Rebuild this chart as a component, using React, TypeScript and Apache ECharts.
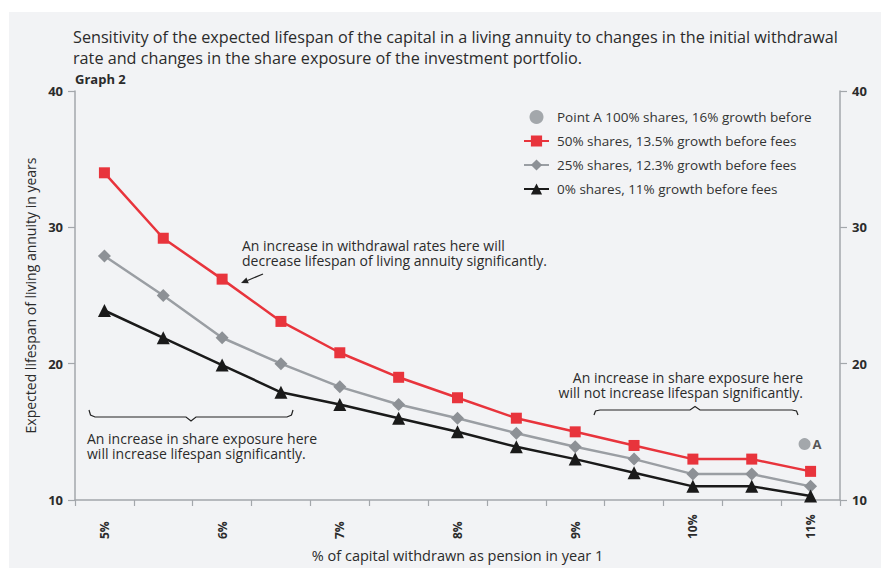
import React, { useEffect, useRef } from "react";
import * as echarts from "echarts";

const categories = ["5%", "5.5%", "6%", "6.5%", "7%", "7.5%", "8%", "8.5%", "9%", "9.5%", "10%", "10.5%", "11%"];
const shownLabels = ["5%", "6%", "7%", "8%", "9%", "10%", "11%"];
const red50 = [34.0, 29.2, 26.2, 23.1, 20.8, 19.0, 17.5, 16.0, 15.0, 14.0, 13.0, 13.0, 12.1];
const gray25 = [27.9, 25.0, 21.9, 20.0, 18.3, 17.0, 16.0, 14.9, 13.9, 13.0, 11.9, 11.9, 11.0];
const black0 = [23.9, 21.9, 19.9, 17.9, 17.0, 16.0, 15.0, 13.9, 13.0, 12.0, 11.0, 11.0, 10.3];
const pointA = [["11%", 14.1]];
const seriesNames = [
  "Point A 100% shares, 16% growth before",
  "50% shares, 13.5% growth before fees",
  "25% shares, 12.3% growth before fees",
  "0% shares, 11% growth before fees",
];
const titleLines = [
  "Sensitivity of the expected lifespan of the capital in a living annuity to changes in the initial withdrawal",
  "rate and changes in the share exposure of the investment portfolio.",
];
const noteTop = ["An increase in withdrawal rates here will", "decrease lifespan of living annuity significantly."];
const noteLeft = ["An increase in share exposure here", "will increase lifespan significantly."];
const noteRight = ["An increase in share exposure here", "will not increase lifespan significantly."];

const SANS = "'Open Sans', 'Noto Sans', sans-serif";
const AXIS = "#a3a7ab";
const TXT = "#2b2b2b";

function lines(texts: string[], x: number, yCenters: number[], align: string, size: number) {
  return texts.map((t, i) => ({
    type: "text",
    x,
    y: yCenters[i],
    style: { text: t, font: `${size}px ${SANS}`, fill: TXT, align, verticalAlign: "middle" },
  }));
}

export default function App() {
  const ref = useRef<HTMLDivElement>(null);
  useEffect(() => {
    document.body.style.margin = "0";
    document.body.style.overflow = "hidden";
    const chart = echarts.init(ref.current!, null, { renderer: "svg" });
    const yAxisBase = {
      type: "value",
      min: 10,
      max: 40,
      interval: 10,
      splitLine: { show: false },
      axisLine: { show: true, lineStyle: { color: AXIS, width: 1.5 } },
      axisTick: { show: true, length: 7, lineStyle: { color: AXIS, width: 1.2 } },
      axisLabel: { fontFamily: SANS, fontWeight: "bold", fontSize: 13, color: TXT, margin: 12 },
    };
    chart.setOption({
      animation: false,
      backgroundColor: "#ffffff",
      grid: { left: 75, right: 41, top: 91, bottom: 66, containLabel: false },
      graphic: [
        { type: "rect", z: -10, silent: true, shape: { x: 9, y: 12, width: 872, height: 556 }, style: { fill: "#f2f3f5" } },
        ...lines(titleLines, 73, [37, 58], "left", 16.2),
        { type: "text", x: 75, y: 79, style: { text: "Graph 2", font: `bold 13px ${SANS}`, fill: TXT, verticalAlign: "middle" } },
        ...lines(noteTop, 242, [245, 260], "left", 14),
        { type: "line", shape: { x1: 263, y1: 274, x2: 247.5, y2: 280.5 }, style: { stroke: "#222", lineWidth: 1.2 } },
        { type: "polygon", shape: { points: [[241, 283], [248.8, 283.2], [246.4, 277.6]] }, style: { fill: "#222" } },
        ...lines(noteLeft, 87, [438, 453], "left", 14),
        {
          type: "polyline",
          shape: { points: [[89, 410], [90.5, 415], [95, 417], [186, 417], [191, 421], [196, 417], [287, 417], [291.5, 415], [293, 410]] },
          style: { stroke: "#222", lineWidth: 1.2, fill: null },
        },
        ...lines(noteRight, 803, [377, 392], "right", 14),
        {
          type: "polyline",
          shape: { points: [[594, 415], [595.5, 411], [600, 410], [690, 410], [695, 406.5], [700, 410], [792, 410], [796.5, 411], [798, 415]] },
          style: { stroke: "#222", lineWidth: 1.2, fill: null },
        },
      ],
      legend: {
        orient: "vertical",
        left: 518,
        top: 105,
        itemWidth: 25,
        itemHeight: 14,
        itemGap: 10,
        data: seriesNames,
        textStyle: { fontFamily: SANS, fontSize: 13.5, color: "#333", padding: [0, 0, 0, 3] },
      },
      xAxis: {
        type: "category",
        data: categories,
        boundaryGap: true,
        axisLine: { show: true, lineStyle: { color: AXIS, width: 1.5 } },
        axisTick: { show: true, interval: 0, alignWithLabel: false, length: 6, lineStyle: { color: AXIS, width: 1.2 } },
        axisLabel: {
          interval: 0,
          rotate: 90,
          align: "left",
          margin: 39,
          fontFamily: SANS,
          fontWeight: "bold",
          fontSize: 12,
          color: TXT,
          formatter: (v: string) => (shownLabels.includes(v) ? v : ""),
        },
        name: "% of capital withdrawn as pension in year 1",
        nameLocation: "middle",
        nameGap: 48,
        nameTextStyle: { fontFamily: SANS, fontSize: 14.5, color: TXT },
      },
      yAxis: [
        {
          ...yAxisBase,
          position: "left",
          name: "Expected lifespan of living annuity in years",
          nameLocation: "middle",
          nameGap: 34,
          nameTextStyle: { fontFamily: SANS, fontSize: 14, color: TXT },
        },
        { ...yAxisBase, position: "right" },
      ],
      series: [
        {
          name: seriesNames[0],
          type: "scatter",
          data: pointA,
          symbol: "circle",
          symbolSize: 12,
          symbolOffset: [-6, 0],
          itemStyle: { color: "#8e9398" },
          label: { show: true, position: "right", distance: 2, formatter: "A", fontFamily: SANS, fontWeight: "bold", fontSize: 13, color: TXT },
          z: 5,
        },
        {
          name: seriesNames[1],
          type: "line",
          data: red50,
          symbol: "rect",
          symbolSize: 11,
          lineStyle: { color: "#e8343c", width: 2.5 },
          itemStyle: { color: "#e8343c" },
        },
        {
          name: seriesNames[2],
          type: "line",
          data: gray25,
          symbol: "diamond",
          symbolSize: 13,
          lineStyle: { color: "#9a9ea3", width: 2.5 },
          itemStyle: { color: "#8d9196" },
        },
        {
          name: seriesNames[3],
          type: "line",
          data: black0,
          symbol: "triangle",
          symbolSize: 13,
          lineStyle: { color: "#1a1a1a", width: 2.5 },
          itemStyle: { color: "#1a1a1a" },
        },
      ],
    });
    return () => chart.dispose();
  }, []);
  return <div ref={ref} style={{ width: 881, height: 568 }} />;
}
